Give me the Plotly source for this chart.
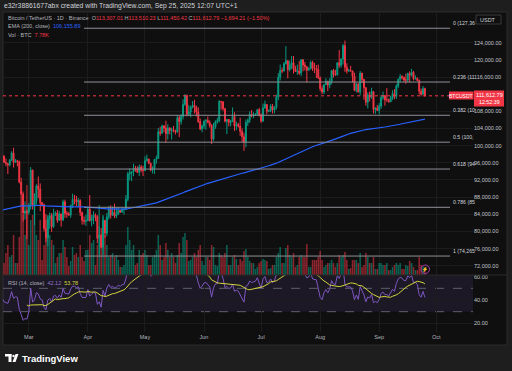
import numpy as np
import pandas as pd
import plotly.graph_objects as go

# ---------------- data (thousand USDT / thousand BTC) ----------------
# closes before the visible window (RSI warm-up, off-screen left)
CLOSE_PREROLL_K = [100.6, 97.7, 101.4, 97.8, 96.6, 96.6, 96.5, 96.5, 96.5, 97.4, 95.8, 97.9, 96.6, 97.5]
START_DATE = "2025-02-15"

CLOSE_K = [
    # Feb 15-28
    97.6, 96.1, 95.8, 95.5, 96.6, 98.3, 96.1, 96.5, 96.3, 91.5, 88.7, 84.3, 84.7, 84.4,
    # Mar
    86.1, 94.3, 86.1, 87.2, 90.6, 89.9, 86.7, 86.2, 80.7, 78.5, 82.9, 83.7, 81.1, 84.0, 84.3, 82.6,
    84.1, 82.7, 86.9, 84.2, 84.1, 83.8, 86.1, 87.5, 87.4, 86.9, 87.2, 84.4, 82.6, 82.4, 82.5,
    # Apr
    85.2, 82.5, 83.1, 83.8, 83.5, 78.4, 79.2, 76.3, 82.6, 79.6, 83.4, 85.3, 83.8, 84.5, 83.6,
    84.0, 84.9, 84.5, 85.1, 85.2, 87.5, 93.4, 93.7, 93.9, 94.7, 94.6, 93.8, 95.0, 94.3, 94.2,
    # May
    96.5, 96.9, 95.9, 94.3, 94.7, 96.8, 97.0, 103.2, 102.9, 104.6, 104.1, 102.8, 104.1, 103.5, 103.7, 103.5,
    103.2, 106.5, 105.6, 106.8, 109.6, 111.7, 107.3, 107.8, 109.0, 109.4, 108.9, 107.8, 105.6, 103.9, 104.6,
    # Jun
    105.7, 105.9, 105.4, 104.7, 101.5, 104.3, 105.6, 105.8, 110.3, 110.2, 108.6, 105.7, 106.1, 105.4, 105.6,
    106.8, 104.6, 104.9, 104.6, 103.3, 102.1, 100.9, 105.4, 105.9, 107.3, 106.9, 107.1, 107.3, 108.4, 107.1,
    # Jul
    105.7, 108.8, 109.6, 108.0, 108.2, 109.2, 108.3, 108.9, 111.3, 115.9, 117.5, 117.4, 119.1, 119.8, 117.7, 118.8,
    119.3, 117.9, 117.3, 117.4, 116.9, 120.0, 118.8, 118.4, 117.6, 117.9, 119.4, 118.0, 117.9, 117.8, 115.8,
    # Aug
    113.3, 112.5, 114.2, 115.0, 114.1, 115.0, 117.5, 116.6, 116.5, 119.3, 118.7, 120.2, 123.3, 118.3, 117.4, 117.5,
    117.4, 116.2, 112.9, 114.3, 112.5, 116.9, 115.4, 113.5, 110.1, 111.8, 111.3, 112.6, 108.4, 108.8, 108.2,
    # Sep
    109.2, 111.2, 111.7, 110.7, 110.7, 110.2, 111.1, 112.1, 111.5, 113.9, 115.5, 116.1, 115.9, 115.3, 115.3,
    116.8, 116.4, 117.1, 115.6, 115.7, 115.2, 112.7, 112.0, 113.30701, 111.61279,
]
HIGH_K = [
    97.9, 97.7, 97.0, 96.0, 96.9, 98.7, 99.5, 96.9, 96.7, 96.5, 92.5, 89.3, 87.0, 85.1,
    86.6, 95.0, 94.4, 88.9, 91.0, 92.8, 91.2, 86.9, 86.5, 84.0, 83.6, 84.4, 84.3, 85.3, 84.7, 85.0,
    84.8, 84.1, 87.4, 87.4, 84.8, 84.5, 86.2, 88.8, 88.5, 88.3, 87.8, 87.5, 84.6, 83.5, 83.9,
    85.6, 88.5, 83.9, 84.7, 84.2, 83.8, 81.2, 80.8, 83.5, 82.7, 84.3, 85.9, 86.1, 85.8, 86.5,
    85.5, 85.5, 85.0, 85.6, 85.3, 88.5, 93.9, 94.7, 94.0, 95.8, 95.3, 95.2, 95.6, 95.5, 95.3,
    97.5, 97.9, 96.9, 96.0, 95.2, 96.9, 97.7, 104.1, 104.4, 104.9, 104.8, 105.8, 105.0, 104.3, 104.2, 104.6,
    103.7, 107.1, 107.0, 107.3, 110.8, 112.0, 111.9, 109.5, 109.3, 110.4, 110.7, 109.3, 108.9, 106.3, 104.9,
    105.9, 106.2, 106.8, 105.9, 105.0, 105.3, 105.9, 106.5, 110.6, 110.4, 110.4, 108.8, 106.2, 106.2, 106.0,
    108.9, 107.8, 105.6, 105.3, 106.5, 104.0, 103.0, 106.1, 106.3, 108.0, 108.3, 107.8, 107.6, 108.5, 108.8,
    107.5, 109.8, 110.5, 109.7, 108.4, 109.7, 109.7, 109.2, 111.9, 116.9, 118.9, 118.2, 119.5, 123.2, 119.9, 119.8,
    120.9, 120.9, 118.6, 118.9, 119.7, 120.2, 120.2, 119.5, 118.5, 118.3, 119.8, 119.8, 119.3, 118.8, 118.9,
    116.1, 114.0, 114.4, 115.7, 115.1, 115.7, 117.6, 117.9, 117.7, 119.4, 122.3, 120.3, 123.7, 124.5, 119.2, 117.9,
    118.6, 117.5, 117.0, 114.6, 114.6, 117.4, 117.0, 115.6, 113.6, 112.4, 112.6, 113.5, 112.7, 108.9, 109.5,
    109.9, 111.8, 112.6, 111.8, 113.4, 111.0, 111.6, 112.9, 113.2, 114.3, 115.6, 116.7, 116.4, 116.1, 116.8,
    117.0, 117.3, 117.9, 117.4, 116.4, 115.9, 115.4, 113.3, 113.9, 113.51023,
]
LOW_K = [
    97.2, 96.0, 95.2, 93.4, 95.2, 96.4, 94.9, 96.0, 95.2, 91.2, 86.0, 82.3, 82.8, 78.2,
    83.9, 85.1, 85.1, 81.5, 86.3, 87.8, 84.7, 85.8, 80.0, 77.5, 76.6, 80.6, 79.9, 80.8, 83.6, 82.0,
    82.5, 81.1, 82.4, 83.2, 83.2, 83.7, 83.2, 85.5, 86.3, 85.9, 85.8, 83.6, 81.6, 81.6, 81.3,
    82.4, 82.3, 81.2, 81.7, 82.4, 77.2, 74.5, 76.2, 74.6, 78.5, 78.9, 82.8, 83.0, 83.6, 83.1,
    83.1, 83.9, 84.3, 84.4, 83.9, 85.2, 87.0, 91.9, 91.7, 92.9, 93.9, 93.6, 92.9, 93.8, 92.9,
    94.1, 96.3, 95.7, 94.0, 93.5, 93.4, 95.8, 96.9, 102.3, 102.8, 103.1, 100.7, 101.4, 102.6, 101.4, 103.1,
    102.6, 103.0, 102.0, 104.9, 106.1, 109.3, 106.8, 106.9, 106.6, 108.7, 107.5, 106.8, 105.3, 103.6, 103.1,
    103.9, 103.7, 105.2, 104.2, 100.4, 101.1, 103.9, 105.1, 105.4, 108.4, 108.1, 105.4, 102.7, 104.5, 104.5,
    105.5, 103.4, 103.6, 104.2, 102.3, 100.8, 98.8, 99.6, 104.6, 105.3, 106.6, 106.4, 106.9, 107.2, 106.8,
    105.3, 105.6, 108.6, 107.3, 107.8, 107.8, 107.5, 107.5, 108.4, 110.6, 115.2, 116.9, 117.3, 118.9, 115.7, 117.3,
    117.8, 116.8, 117.2, 116.5, 116.5, 116.2, 117.3, 117.5, 114.7, 117.5, 117.8, 117.4, 116.9, 115.8, 115.5,
    112.7, 112.0, 112.0, 114.1, 112.7, 113.4, 114.3, 115.9, 116.3, 116.3, 118.1, 118.2, 118.9, 117.2, 116.8, 117.2,
    117.3, 114.7, 112.7, 112.4, 112.4, 111.7, 114.6, 110.7, 109.3, 108.7, 110.3, 110.9, 107.5, 107.4, 108.1,
    107.3, 108.6, 110.7, 109.3, 110.2, 110.0, 110.2, 110.6, 110.8, 110.9, 113.4, 114.8, 115.4, 114.8, 114.4,
    114.8, 114.7, 116.1, 115.2, 115.4, 115.1, 111.9, 111.5, 111.8, 111.45042,
]
VOLUME_K = [
    12, 12, 22, 30, 18, 20, 40, 12, 12, 38, 70, 60, 40, 90,
    30, 55, 60, 75, 40, 35, 55, 15, 30, 55, 60, 40, 35, 30, 12, 18,
    22, 22, 35, 28, 18, 9, 14, 28, 20, 22, 18, 30, 18, 14, 25,
    25, 40, 32, 35, 10, 30, 70, 40, 60, 40, 30, 18, 20, 22, 18,
    20, 15, 8, 8, 10, 30, 48, 35, 25, 30, 10, 12, 25, 20, 22,
    25, 20, 10, 10, 18, 20, 25, 40, 30, 15, 18, 32, 25, 18, 22, 18,
    12, 20, 32, 22, 38, 42, 35, 14, 15, 18, 22, 18, 25, 30, 14,
    10, 18, 18, 15, 30, 28, 10, 9, 22, 20, 18, 22, 30, 10, 10,
    18, 20, 16, 10, 16, 14, 24, 26, 18, 14, 12, 12, 6, 8, 12,
    14, 16, 15, 14, 6, 7, 10, 10, 18, 22, 28, 12, 12, 27, 30, 20,
    18, 22, 8, 10, 18, 20, 18, 18, 31, 8, 8, 15, 15, 15, 18,
    24, 15, 8, 10, 12, 12, 15, 12, 8, 12, 20, 18, 20, 23, 15, 6,
    7, 15, 15, 15, 12, 22, 8, 10, 22, 18, 12, 12, 18, 6, 6,
    12, 12, 10, 10, 12, 5, 5, 8, 10, 12, 10, 12, 6, 6, 10,
    9, 14, 12, 8, 5, 5, 18, 10, 9, 7.78,
]
EMA_START = 85000.0          # EMA(200) value at the left edge
# legend values as printed on the chart
EMA_LAST_TEXT = "106,155.89"
VOL_LAST_TEXT = "7.78K"
RSI_LAST_TEXT = "42.12"
RSI_MA_LAST_TEXT = "53.78"
FIB_RATIOS = [0, 0.236, 0.382, 0.5, 0.618, 0.786, 1]
FIB_LABELS = ["0 (127,36", "0.236 (11", "0.382 (10", "0.5 (100,", "0.618 (94", "0.786 (85", "1 (74,265"]
FIB_HIGH = 127360.0
FIB_LOW = 74265.0
PRICE_TICKS = [72000, 76000, 80000, 84000, 88000, 92000, 96000, 100000, 104000, 108000, 116000, 120000, 124000]
RSI_TICKS = [20, 40, 60]
MONTH_TICKS = ["2025-03-01", "2025-04-01", "2025-05-01", "2025-06-01", "2025-07-01", "2025-08-01", "2025-09-01", "2025-10-01"]
MONTH_TEXT = ["Mar", "Apr", "May", "Jun", "Jul", "Aug", "Sep", "Oct"]

n = len(CLOSE_K)
assert len(HIGH_K) == n and len(LOW_K) == n and len(VOLUME_K) == n, (n, len(HIGH_K), len(LOW_K), len(VOLUME_K))

dates = pd.date_range(START_DATE, periods=n, freq="D")
close = np.array(CLOSE_K) * 1000
high = np.array(HIGH_K) * 1000
low = np.array(LOW_K) * 1000
open_ = np.concatenate([[CLOSE_PREROLL_K[-1] * 1000], close[:-1]])
vol = np.array(VOLUME_K)
up = close >= open_

# EMA 200
alpha = 2 / 201
ema = np.empty(n)
ema[0] = EMA_START
for i in range(1, n):
    ema[i] = alpha * close[i] + (1 - alpha) * ema[i - 1]

# RSI 14 (Wilder) + SMA 14
allc = np.concatenate([np.array(CLOSE_PREROLL_K) * 1000, close])
dlt = np.diff(allc)
g = np.where(dlt > 0, dlt, 0.0)
lo = np.where(dlt < 0, -dlt, 0.0)
rsi_all = np.full(len(allc), np.nan)
ag = g[:14].mean()
al = lo[:14].mean()
rsi_all[14] = 100 - 100 / (1 + ag / al)
for i in range(15, len(allc)):
    ag = (ag * 13 + g[i - 1]) / 14
    al = (al * 13 + lo[i - 1]) / 14
    rsi_all[i] = 100 - 100 / (1 + ag / al)
rsi = rsi_all[len(CLOSE_PREROLL_K):]
rsi_ma = pd.Series(rsi).rolling(14).mean().to_numpy()

# ---------------- layout geometry ----------------
W, H = 512, 371
ML, MR, MT, MB = 3, 39, 12, 39
PW, PH = W - ML - MR, H - MT - MB


def fx(p):
    return (p - ML) / PW


def fy(p):
    return (H - MB - p) / PH


SPLIT = fy(275)
UP_C, DN_C = "#089981", "#f23645"
TXT = "#b2b5be"
FONT = "Liberation Sans, Arial, sans-serif"

fig = go.Figure()
fig.add_trace(go.Bar(
    x=dates, y=vol, xaxis="x", yaxis="y",
    marker=dict(color=np.where(up, "rgba(8,153,129,0.6)", "rgba(242,54,69,0.55)"), line=dict(width=0)),
))
fig.add_trace(go.Candlestick(
    x=dates, open=open_, high=high, low=low, close=close, xaxis="x", yaxis="y2",
    increasing=dict(line=dict(color=UP_C, width=1), fillcolor=UP_C),
    decreasing=dict(line=dict(color=DN_C, width=1), fillcolor=DN_C),
    whiskerwidth=0,
))
fig.add_trace(go.Scatter(x=dates, y=ema, mode="lines", line=dict(color="#2962ff", width=1.2),
                         xaxis="x", yaxis="y2"))
fig.add_trace(go.Scatter(x=dates, y=rsi, mode="lines", line=dict(color="#7e57c2", width=1),
                         xaxis="x2", yaxis="y3"))
fig.add_trace(go.Scatter(x=dates, y=rsi_ma, mode="lines", line=dict(color="#d4d63c", width=1),
                         xaxis="x2", yaxis="y3"))

XR = ["2025-02-15 11:00", "2025-10-20 06:00"]
grid = "#1c1c1c"
fig.update_layout(
    width=W, height=H, margin=dict(l=ML, r=MR, t=MT, b=MB, autoexpand=False),
    paper_bgcolor="#1e1e1e", plot_bgcolor="#0f0f0f", showlegend=False,
    font=dict(family=FONT, size=5.5, color=TXT), bargap=0.2,
    xaxis=dict(domain=[0, 1], anchor="y", type="date", range=XR, tickvals=MONTH_TICKS,
               showticklabels=False, showgrid=True, gridcolor=grid, zeroline=False,
               rangeslider=dict(visible=False), showline=False, ticks=""),
    yaxis=dict(domain=[SPLIT, 1], anchor="x", range=[0, 263], visible=False, showgrid=False),
    yaxis2=dict(overlaying="y", anchor="x", side="right", range=[69850, 131150],
                tickvals=PRICE_TICKS, tickformat=",.2f", showgrid=True, gridcolor=grid,
                zeroline=False, ticks="", tickfont=dict(size=5.5, color="#c3c6ce"), showline=False),
    xaxis2=dict(domain=[0, 1], anchor="y3", type="date", matches="x", range=XR,
                tickvals=MONTH_TICKS, ticktext=MONTH_TEXT, showgrid=True, gridcolor=grid,
                zeroline=False, ticks="", tickfont=dict(size=5.5, color=TXT), showline=False),
    yaxis3=dict(domain=[0, SPLIT], anchor="x2", side="right", range=[12.6, 61.4],
                tickvals=RSI_TICKS, tickformat=".2f", showgrid=True, gridcolor=grid,
                zeroline=False, ticks="", tickfont=dict(size=5.5, color="#c3c6ce"), showline=False),
)

shapes = []
# chart panel
shapes.append(dict(type="rect", xref="paper", yref="paper", x0=fx(3), x1=fx(507), y0=fy(345), y1=fy(12),
                   fillcolor="#0f0f0f", line=dict(color="#2c2c2c", width=1), layer="below"))
# pane separator
shapes.append(dict(type="line", xref="paper", yref="paper", x0=fx(3), x1=fx(507), y0=SPLIT, y1=SPLIT,
                   line=dict(color="#2a2a2a", width=1), layer="above"))
# RSI band + levels
shapes.append(dict(type="rect", xref="x2 domain", yref="y3", x0=0, x1=1, y0=30, y1=70,
                   fillcolor="rgba(126,87,194,0.12)", line=dict(width=0), layer="below"))
for lv in (70, 50, 30):
    shapes.append(dict(type="line", xref="x2 domain", yref="y3", x0=0, x1=1, y0=lv, y1=lv,
                       line=dict(color="#5d606b", width=1, dash="dash"), layer="below"))
# fib levels
fib_prices = [FIB_HIGH - r * (FIB_HIGH - FIB_LOW) for r in FIB_RATIOS]
for p in fib_prices:
    shapes.append(dict(type="line", xref="paper", yref="y2", x0=fx(84), x1=fx(450), y0=p, y1=p,
                       line=dict(color="#8f9198", width=1), layer="above"))
# last price dotted line
last = close[-1]
shapes.append(dict(type="line", xref="paper", yref="y2", x0=0, x1=1, y0=last, y1=last,
                   line=dict(color=DN_C, width=1, dash="dot"), layer="above"))
# price label boxes
shapes.append(dict(type="rect", xref="paper", yref="paper", x0=fx(449), x1=fx(473.5), y0=fy(99.5), y1=fy(91.5),
                   fillcolor=DN_C, line=dict(width=0), layer="above"))
shapes.append(dict(type="rect", xref="paper", yref="paper", x0=fx(474), x1=fx(504), y0=fy(106.5), y1=fy(90.5),
                   fillcolor=DN_C, line=dict(width=0), layer="above"))
# USDT box
shapes.append(dict(type="rect", xref="paper", yref="paper", x0=fx(476), x1=fx(501), y0=fy(24), y1=fy(15),
                   fillcolor="#0f0f0f", line=dict(color="#3a3a3a", width=1), layer="above"))
# alert circle
shapes.append(dict(type="circle", xref="paper", yref="paper", x0=fx(421), x1=fx(429.5), y0=fy(273.5), y1=fy(265),
                   fillcolor="rgba(0,0,0,0)", line=dict(color="#a23ea8", width=1), layer="above"))
# TradingView logo
shapes.append(dict(type="rect", xref="paper", yref="paper", x0=fx(5), x1=fx(11.5), y0=fy(356.5), y1=fy(354),
                   fillcolor="#ffffff", line=dict(width=0), layer="above"))
shapes.append(dict(type="rect", xref="paper", yref="paper", x0=fx(8.5), x1=fx(11.5), y0=fy(362), y1=fy(354),
                   fillcolor="#ffffff", line=dict(width=0), layer="above"))
shapes.append(dict(type="circle", xref="paper", yref="paper", x0=fx(12.3), x1=fx(14.7), y0=fy(357.2), y1=fy(354.8),
                   fillcolor="#ffffff", line=dict(width=0), layer="above"))
shapes.append(dict(type="path", xref="paper", yref="paper",
                   path=f"M {fx(15.5)} {fy(354)} L {fx(18.5)} {fy(354)} L {fx(15.5)} {fy(362)} L {fx(12.5)} {fy(362)} Z",
                   fillcolor="#ffffff", line=dict(width=0), layer="above"))
fig.update_layout(shapes=shapes)

ann = []


def text(x, y, s, size=5.5, color=TXT, xanchor="left", yanchor="middle", xref="paper", yref="paper", bold=False):
    if bold:
        s = f"<b>{s}</b>"
    ann.append(dict(x=x, y=y, xref=xref, yref=yref, text=s, showarrow=False, xanchor=xanchor, yanchor=yanchor,
                    font=dict(size=size, color=color, family=FONT), borderpad=0))


red = DN_C
text(fx(3), fy(5.5), "e32r38861677abx created with TradingView.com, Sep 25, 2025 12:07 UTC+1", size=6.8, color="#d1d4dc")
text(fx(7), fy(17.5),
     "Bitcoin / TetherUS · 1D · Binance  "
     f"O<span style='color:{red}'>113,307.01</span> H<span style='color:{red}'>113,510.23</span> "
     f"L<span style='color:{red}'>111,450.42</span> C<span style='color:{red}'>111,612.79</span> "
     f"<span style='color:{red}'>−1,694.21 (−1.50%)</span>")
text(fx(7), fy(26), f"EMA (200, close)  <span style='color:#2962ff'>{EMA_LAST_TEXT}</span>")
text(fx(7), fy(34.5), f"Vol · BTC  <span style='color:{red}'>{VOL_LAST_TEXT}</span>")
text(fx(7), fy(282.5), f"RSI (14, close)  <span style='color:#9575cd'>{RSI_LAST_TEXT}</span>  "
                       f"<span style='color:#d4d63c'>{RSI_MA_LAST_TEXT}</span>")
for p, lab in zip(fib_prices, FIB_LABELS):
    ann.append(dict(x=fx(451.5), y=p, xref="paper", yref="y2", text=lab, showarrow=False, xanchor="left",
                    yanchor="bottom", yshift=1, font=dict(size=5.2, color="#d1d4dc", family=FONT), borderpad=0))
text(fx(479), fy(19.5), "USDT", size=5.5, color="#d1d4dc")
text(fx(461.2), fy(95.5), "BTCUSDT", size=5, color="#ffffff", xanchor="center")
text(fx(489), fy(94.5), f"{last:,.2f}", size=5.5, color="#ffffff", xanchor="center")
text(fx(489), fy(101.8), "12:52:39", size=5.3, color="#ffffff", xanchor="center")
text(fx(425.3), fy(269.3), "⚡", size=5, color="#b04ab5", xanchor="center")
text(fx(21), fy(358), "TradingView", size=9.5, color="#ffffff", bold=True)
fig.update_layout(annotations=ann)

fig.write_html("out.html", config={"displayModeBar": False, "staticPlot": True},
               post_script="document.body.style.margin='0px';document.body.style.background='#1e1e1e';")
